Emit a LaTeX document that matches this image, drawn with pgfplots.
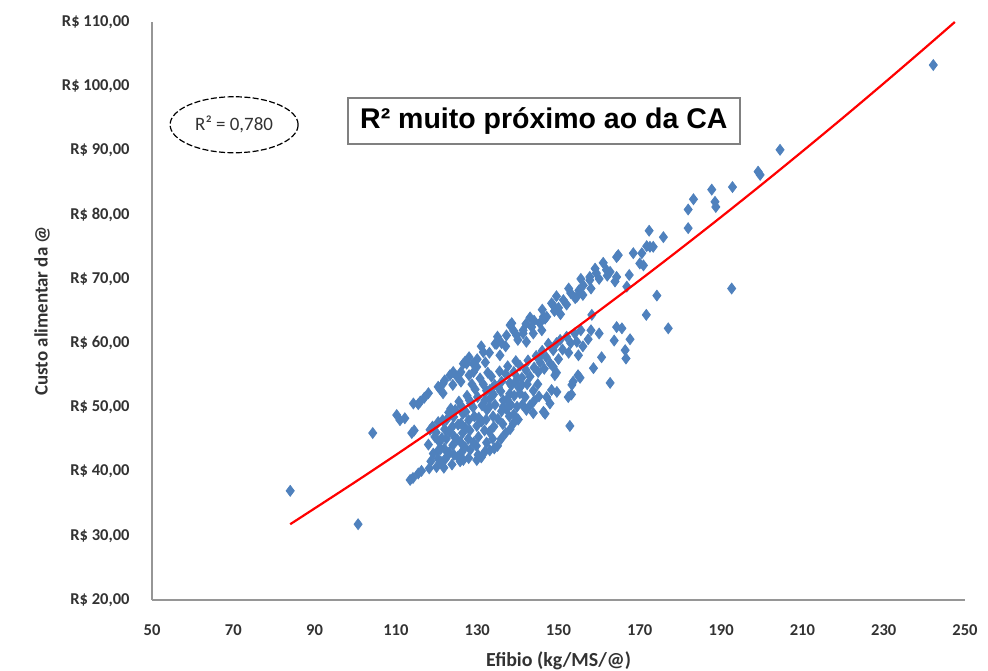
\documentclass[border=0pt]{standalone}
\usepackage{pgfplots}
\pgfplotsset{compat=1.18}
\usepackage{fontspec}
\setmainfont{Carlito}
\newfontfamily\arialfont{Liberation Sans}
\usetikzlibrary{shapes.geometric}
\definecolor{exblue}{RGB}{79,129,189}
\definecolor{axgray}{RGB}{150,150,150}
\definecolor{lblgray}{RGB}{50,50,50}

\begin{document}
\begin{tikzpicture}
\path[use as bounding box] (-76bp,-35.5bp) rectangle (418bp,300bp);
\begin{axis}[
  at={(0,0)}, anchor=south west,
  clip marker paths=true,
  scale only axis, width=406.5bp, height=289bp,
  xmin=50, xmax=250, ymin=20, ymax=110,
  axis x line*=bottom, axis y line*=left,
  axis line style={-, draw=axgray, line width=1bp},
  xtick={50,70,...,250}, ytick={20,30,...,110},
  major tick length=0pt,
  tick style={draw=none},
  yticklabels={{R\$ 20,00},{R\$ 30,00},{R\$ 40,00},{R\$ 50,00},{R\$ 60,00},{R\$ 70,00},{R\$ 80,00},{R\$ 90,00},{R\$ 100,00},{R\$ 110,00}},
  ticklabel style={font=\fontsize{8.3}{10}\selectfont\bfseries, text=lblgray},
  yticklabel style={xshift=-7.7bp},
  xticklabel style={yshift=-8.7bp},
  /pgf/number format/assume math mode=true,
  xlabel={Efibio (kg/MS/@)},
  ylabel={Custo alimentar da @},
  every axis x label/.style={at={(axis description cs:0.5,-0.1055)}, anchor=center, font=\fontsize{10}{12}\selectfont\bfseries, text=lblgray},
  every axis y label/.style={at={(axis description cs:-0.1353,0.5)}, rotate=90, anchor=center, font=\fontsize{9.5}{11}\selectfont\bfseries, text=lblgray},
  clip=false,
]
\addplot[only marks, mark=diamond*, mark size=2.7bp, exblue, mark options={draw=exblue, fill=exblue}] coordinates {
(84.0,37.0) (100.7,31.8) (104.3,46.0) (242.2,103.3) (204.5,90.1) (199.1,86.7) (199.6,86.2)
(192.8,84.3) (187.7,83.9) (188.5,82.0) (188.7,81.2) (183.2,82.4) (181.9,80.8) (181.9,77.9)
(172.3,77.5) (175.8,76.5) (171.7,75.1) (173.3,75.0) (170.5,74.0) (170.9,72.1) (192.6,68.5)
(174.2,67.4) (177.0,62.3) (171.6,64.4)
(110.2,48.8) (111.0,48.0) (112.2,48.3) (114.3,50.6) (115.5,50.5) (116.0,50.9) (113.9,46.0)
(114.5,46.4) (113.5,38.7) (114.2,39.0) (115.5,39.7) (116.3,40.1) (119.6,45.4) (120.4,47.7)
(120.4,42.0) (120.0,40.7) (121.0,43.5)
(117.0,51.5) (118.0,52.2) (120.8,52.9) (121.6,52.2) (120.4,53.2) (121.6,53.7) (122.0,54.2)
(123.3,55.0) (124.1,55.5) (124.0,53.5) (125.0,54.8) (126.0,54.0) (126.0,55.5) (126.6,56.8)
(127.0,57.1) (127.4,56.8) (128.0,55.0) (128.0,57.8) (129.0,56.8) (129.9,56.3) (129.1,55.5)
(130.0,57.5) (131.0,59.5) (131.5,58.6) (132.0,57.0) (133.0,58.5) (134.4,59.9) (134.8,59.9)
(135.0,61.0) (135.6,58.1) (136.0,60.0) (137.0,59.5) (137.2,61.2) (138.1,62.8) (138.5,63.1)
(139.0,61.9) (139.7,61.2) (140.0,60.5) (141.3,62.0) (141.3,61.5) (142.0,63.0) (142.1,60.2)
(143.0,64.0) (143.4,62.5) (143.8,61.5) (144.0,63.5) (145.4,63.1) (145.9,62.0) (146.0,65.2)
(146.3,64.1) (146.7,63.8) (147.1,64.1) (147.5,59.9) (148.3,66.2) (148.7,65.9) (149.0,65.0)
(149.5,67.3) (150.0,65.5) (150.5,64.5) (151.2,66.7) (152.0,66.0) (152.5,68.5) (153.0,67.8)
(154.1,67.0) (154.5,67.2) (155.0,68.2) (155.5,70.0) (156.0,67.5) (156.1,69.0) (157.7,70.3)
(157.7,69.8) (158.0,68.5) (159.0,71.6) (159.3,70.9) (160.0,70.0) (161.0,72.5) (161.8,71.4)
(162.0,70.5) (162.7,71.1) (163.9,69.6) (164.3,70.3) (164.3,73.4) (164.7,73.7) (166.8,68.8)
(167.4,70.6) (168.4,74.0) (170.0,72.4) (172.5,75.0) (158.2,64.4) (133.1,52.7)
(136.0,54.0) (137.0,55.2) (138.0,53.8) (139.0,55.5) (140.0,54.5) (140.5,56.5) (141.0,53.5)
(142.0,55.8) (142.5,57.3) (143.0,54.8) (144.0,56.2) (144.5,58.0) (145.0,55.5) (145.5,57.0)
(146.0,58.8) (146.5,56.0) (147.0,57.8) (148.0,56.8) (148.7,58.9) (149.5,60.0) (150.4,60.5)
(150.0,57.5) (151.0,59.0) (152.0,61.0) (152.5,58.5) (153.0,60.0) (154.0,61.5) (154.5,60.2)
(155.5,62.0) (157.3,60.6) (156.0,59.5) (158.0,62.0) (160.0,61.5) (145.4,57.9) (149.1,55.0)
(149.5,55.4) (148.7,56.3) (148.3,52.7) (149.6,52.4) (147.1,51.6) (146.7,49.0) (147.9,50.6)
(152.8,47.1) (152.4,51.6) (153.2,52.0) (153.3,53.5) (153.6,54.0) (154.8,55.0) (155.3,54.6)
(154.9,58.1) (158.6,56.1) (160.6,57.8) (162.7,53.8) (163.7,60.4) (164.3,62.5) (165.6,62.3)
(167.6,60.6) (166.4,58.9) (166.6,57.6) (143.8,49.1) (146.3,49.3) (140.5,52.2) (138.9,47.5)
(136.4,50.1)
(118.2,40.5) (118.6,41.6) (118.0,44.2) (118.4,46.5) (120.3,43.2) (120.7,44.6) (119.9,46.1)
(121.8,40.6) (122.2,42.0) (121.9,43.6) (122.4,45.1) (122.0,46.6) (122.5,48.1) (123.8,41.1)
(124.3,42.6) (124.0,44.1) (124.4,45.4) (123.9,47.0) (124.2,48.5) (124.6,49.6) (125.8,41.6)
(126.3,43.1) (125.9,44.6) (126.4,46.0) (126.0,47.5) (126.5,49.0) (126.1,50.2) (127.9,42.1)
(128.3,43.4) (127.8,45.1) (128.2,46.4) (127.9,48.0) (128.4,50.6) (128.1,51.1) (130.2,42.6)
(129.8,44.0) (130.3,45.4) (129.9,47.1) (130.4,48.4) (130.1,51.6) (131.9,43.1) (132.3,44.5)
(131.8,46.4) (132.2,48.1) (132.4,49.6) (131.9,51.1) (132.3,52.6) (134.2,43.6) (133.8,45.1)
(134.1,47.0) (133.9,48.6) (134.4,50.4) (134.0,52.0) (134.3,53.5) (135.9,45.1) (136.3,47.4)
(136.0,49.4) (136.4,51.1) (135.8,52.5) (138.1,46.6) (137.9,48.6) (138.3,50.4) (138.0,52.1)
(138.4,53.4) (140.1,48.1) (139.8,50.1) (140.3,53.0) (142.1,49.6) (141.8,51.6) (142.3,53.6)
(144.0,51.0) (143.8,52.6) (133.1,43.3) (129.9,41.8) (126.6,41.8) (122.5,42.3)
(119.2,42.8) (121.1,41.5) (123.1,43.0) (125.1,45.0) (127.1,46.8) (129.1,44.5) (131.1,47.8)
(133.0,50.1) (135.1,48.2) (137.2,49.7) (139.1,51.8) (141.1,50.4) (123.0,49.2) (125.2,42.3)
(127.0,43.8) (129.0,50.0) (131.0,42.2) (133.0,46.2) (135.0,44.0) (137.0,46.0) (139.0,48.9)
(141.0,54.6) (143.0,50.3) (144.9,53.6) (145.2,51.7) (119.0,47.0) (121.5,48.0) (123.5,49.8)
(125.5,50.9) (127.5,51.8) (129.5,52.8) (131.5,53.6) (133.5,54.8) (135.5,55.6) (137.5,56.4)
(139.5,57.2) (121.3,45.2) (123.2,46.2) (125.3,47.3) (127.2,49.3) (129.3,48.6) (131.2,50.3)
(133.2,51.4) (135.2,53.1) (137.3,51.2) (139.3,53.9) (128.7,53.6) (130.7,54.5) (132.6,55.4)
};
\addplot[red, line width=1.1bp, no marks, smooth] coordinates {
(84,31.8) (90,34.26) (100,38.38) (110,42.59) (120,46.9) (130,51.29) (140,55.77) (150,60.36)
(160,65.04) (170,69.81) (180,74.68) (190,79.64) (200,84.70) (210,89.86) (220,95.1)
(230,100.44) (240,105.87) (247.5,110.0)
};
\node[draw=black, ellipse, dash pattern=on 3bp off 1.2bp, line width=0.6bp, minimum width=64bp, minimum height=28bp, inner sep=0pt, font=\fontsize{9.5}{11}\selectfont, text=lblgray] at (axis cs:70.2,94.0) {R² = 0,780};
\node[draw=gray, line width=0.8bp, fill=white, minimum width=196bp, minimum height=23bp, inner sep=0pt, font=\arialfont\bfseries\fontsize{14.3}{16}\selectfont] at (axis cs:146.4,94.6) {R² muito próximo ao da CA};
\end{axis}
\end{tikzpicture}
\end{document}
